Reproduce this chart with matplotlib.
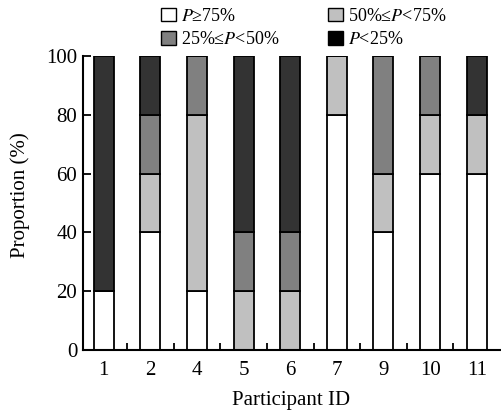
import matplotlib
matplotlib.use('Agg')
import matplotlib.pyplot as plt
from matplotlib.patches import Patch
import numpy as np

plt.rcParams['font.family'] = ['Liberation Serif', 'DejaVu Serif']
plt.rcParams['mathtext.fontset'] = 'stix'

participants = ['1', '2', '4', '5', '6', '7', '9', '10', '11']
p_high = [20, 40, 20, 0, 0, 80, 40, 60, 60]      # P >= 75%
p_midhigh = [0, 20, 60, 20, 20, 20, 20, 20, 20]  # 50% <= P < 75%
p_midlow = [0, 20, 20, 20, 20, 0, 40, 20, 0]     # 25% <= P < 50%
p_low = [80, 20, 0, 60, 60, 0, 0, 0, 20]         # P < 25%

series = [p_high, p_midhigh, p_midlow, p_low]
colors = ['white', '#c0c0c0', '#808080', '#333333']
legend_colors = ['white', '#c0c0c0', '#808080', 'black']
labels = [r'$P$≥75%', r'50%≤$P$<75%', r'25%≤$P$<50%', r'$P$<25%']

fig = plt.figure(figsize=(5.02, 4.16), dpi=100)
ax = fig.add_axes([0.165, 0.159, 0.831, 0.706])

x = np.arange(len(participants))
bottom = np.zeros(len(participants))
for vals, c in zip(series, colors):
    ax.bar(x, vals, width=0.43, bottom=bottom, color=c, edgecolor='black', linewidth=1.3)
    bottom += np.array(vals)

ax.set_xlim(-0.45, len(participants) - 0.5)
ax.set_ylim(0, 100)
ax.set_yticks([0, 20, 40, 60, 80, 100])
ax.set_xticks(x)
ax.set_xticklabels(participants)
ax.set_xticks(x[:-1] + 0.5, minor=True)
ax.tick_params(axis='x', which='major', length=0, pad=8, labelsize=15)
ax.tick_params(axis='x', which='minor', direction='in', length=5, width=1.3)
ax.tick_params(axis='y', direction='in', length=6, width=1.3, labelsize=15, pad=4)
for s in ['top', 'right']:
    ax.spines[s].set_visible(False)
for s in ['left', 'bottom']:
    ax.spines[s].set_linewidth(1.5)

ax.set_xlabel('Participant ID', fontsize=15, labelpad=8)
ax.set_ylabel('Proportion (%)', fontsize=15)
ax.yaxis.set_label_coords(-0.127, 0.527)

handles = [Patch(facecolor=c, edgecolor='black', linewidth=1.0) for c in legend_colors]
order = [0, 2, 1, 3]
fig.legend([handles[i] for i in order], [labels[i] for i in order], ncol=2,
           loc='upper left', bbox_to_anchor=(0.296, 1.012), frameon=False, fontsize=13,
           handlelength=0.8, handleheight=0.8, handletextpad=0.3, columnspacing=2.7,
           labelspacing=0.35, borderpad=0.2)

fig.savefig('out.png', dpi=100)
